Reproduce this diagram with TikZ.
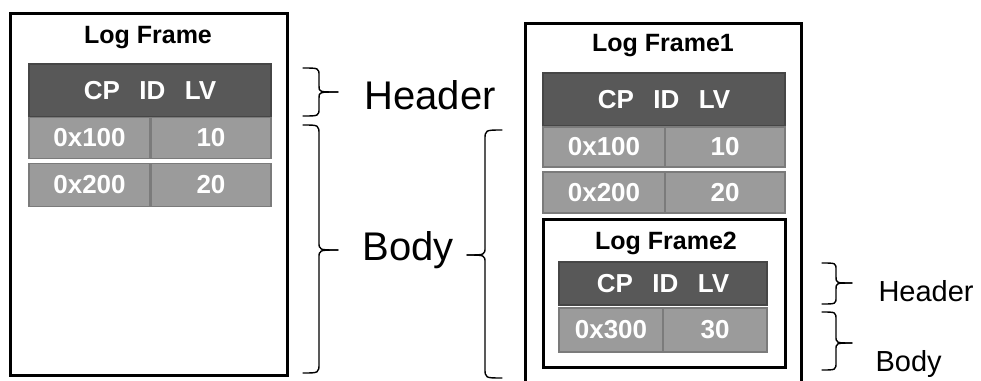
\documentclass[tikz,border=0pt]{standalone}
\usepackage{fontspec}
\setmainfont{Liberation Sans}
\begin{document}
\begin{tikzpicture}[x=1pt,y=-1pt,
  frame/.style={draw=black,line width=3pt,fill=white},
  hdr/.style={draw=hdrline,fill=hdrfill,line width=1.6pt,inner sep=0pt,
    text=white,font=\bfseries\fontsize{26}{28}\selectfont},
  cell/.style={draw=cellline,fill=cellfill,line width=1.6pt,inner sep=0pt,
    text=white,font=\bfseries\fontsize{26}{28}\selectfont},
  title/.style={font=\bfseries\fontsize{25}{28}\selectfont},
  bigtxt/.style={font=\fontsize{40}{44}\selectfont,anchor=west},
  smalltxt/.style={font=\fontsize{29}{32}\selectfont,anchor=west},
  bracket/.style={draw=black,line width=1.4pt,line cap=round}]
\definecolor{hdrfill}{HTML}{585858}
\definecolor{hdrline}{HTML}{464646}
\definecolor{cellfill}{HTML}{9B9B9B}
\definecolor{cellline}{HTML}{7B7B7B}
\useasboundingbox (0,0) rectangle (981,380);
\newcommand{\cpidlv}{CP\hspace{0.75em}ID\hspace{0.75em}LV}

% ---------- single log frame ----------
\node[frame,minimum width=277,minimum height=362,inner sep=0pt] (lf) at (148.5,194) {};
\node[title] (lftitle) at (148,38) {Log Frame};
\node[hdr,minimum width=242,minimum height=53] (lh) at (150,90.5) {\cpidlv};
\node[cell,minimum width=121,minimum height=41] (la1) at (89.5,138) {0x100};
\node[cell,minimum width=120,minimum height=41] (lb1) at (211,138) {10};
\node[cell,minimum width=121,minimum height=43] (la2) at (89.5,185) {0x200};
\node[cell,minimum width=120,minimum height=43] (lb2) at (211,185) {20};

% braces of the single frame
\draw[bracket] (303,68) .. controls (319,68) .. (319,76) -- (319,86)
  .. controls (319,92) .. (338,92);
\draw[bracket] (303,116) .. controls (319,116) .. (319,108) -- (319,98)
  .. controls (319,92) .. (338,92);
\node[bigtxt] (lhead) at (361,95) {Header};
\draw[bracket] (303,125) .. controls (319,125) .. (319,135) -- (319,242)
  .. controls (319,250) .. (338,250);
\draw[bracket] (303,373) .. controls (319,373) .. (319,363) -- (319,258)
  .. controls (319,250) .. (338,250);
\node[bigtxt] (lbody) at (359,250) {Body};

% ---------- nested log frames ----------
\begin{scope}
\clip (0,0) rectangle (981,380);
\node[frame,minimum width=276,minimum height=380,inner sep=0pt] (rf) at (663,213) {};
\end{scope}
\node[title] (rftitle) at (663,46) {Log Frame1};
\node[hdr,minimum width=242,minimum height=53] (rh) at (664,99.5) {\cpidlv};
\node[cell,minimum width=122,minimum height=40] (ra1) at (604,147) {0x100};
\node[cell,minimum width=120,minimum height=40] (rb1) at (725,147) {10};
\node[cell,minimum width=122,minimum height=41] (ra2) at (604,192.5) {0x200};
\node[cell,minimum width=120,minimum height=41] (rb2) at (725,192.5) {20};

\node[draw=black,line width=3pt,minimum width=242,minimum height=148,inner sep=0pt] (inner) at (664,293) {};
\node[title] (intitle) at (666,243) {Log Frame2};
\node[hdr,minimum width=208,minimum height=43] (ih) at (663,283.5) {\cpidlv};
\node[cell,minimum width=104,minimum height=44] (ia) at (611,330) {0x300};
\node[cell,minimum width=104,minimum height=44] (ib) at (715,330) {30};

% brace spanning the outer body
\draw[bracket] (502,130) .. controls (485,130) .. (485,140) -- (485,247)
  .. controls (485,255) .. (467,255);
\draw[bracket] (502,378) .. controls (485,378) .. (485,368) -- (485,263)
  .. controls (485,255) .. (467,255);

% braces of the inner frame
\draw[bracket] (822,263) .. controls (836,263) .. (836,270) -- (836,277)
  .. controls (836,283) .. (852,283);
\draw[bracket] (822,304) .. controls (836,304) .. (836,297) -- (836,289)
  .. controls (836,283) .. (852,283);
\node[smalltxt] (ihead) at (875,291) {Header};
\draw[bracket] (822,312) .. controls (836,312) .. (836,320) -- (836,336)
  .. controls (836,343) .. (852,343);
\draw[bracket] (822,370) .. controls (836,370) .. (836,362) -- (836,350)
  .. controls (836,343) .. (852,343);
\node[smalltxt] (ibody) at (872,364) {Body};
\end{tikzpicture}
\end{document}
